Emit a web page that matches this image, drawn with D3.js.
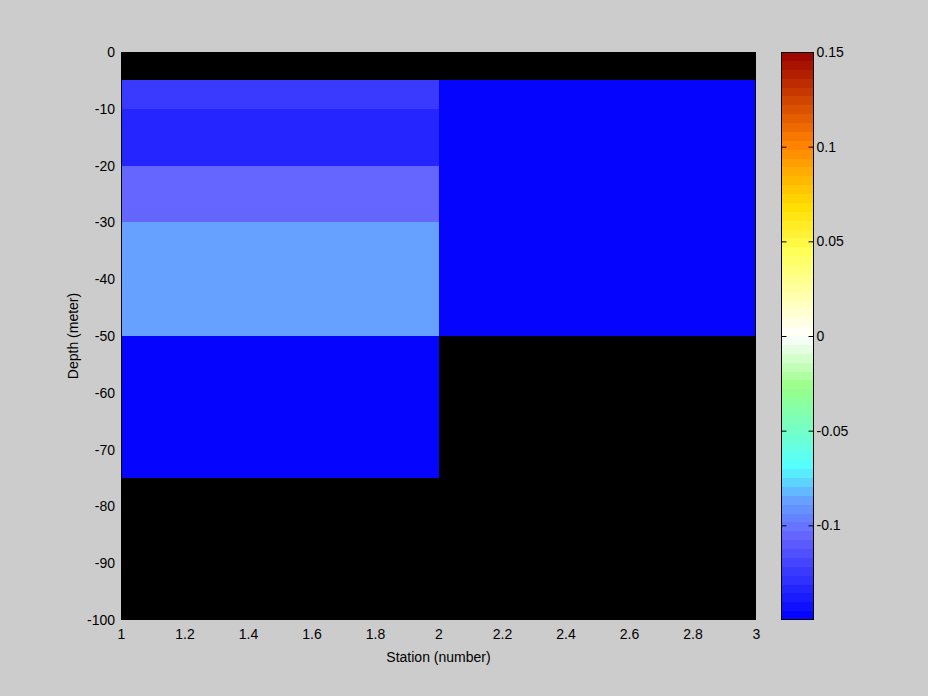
<!DOCTYPE html>
<html><head><meta charset="utf-8">
<script src="https://cdn.jsdelivr.net/npm/d3@7"></script>
<style>
html,body{margin:0;padding:0;background:#cccccc;}
svg{display:block;}
text{font-family:"Liberation Sans",Arial,sans-serif;font-size:14px;fill:#000;}
</style></head>
<body>
<script>
// Data
const stationEdges = [1, 2, 3];
const depthEdges = [0, -5, -10, -20, -30, -50, -75, -100];
const station1 = [null, -0.126, -0.132, -0.105, -0.088, -0.155, null];
const station2 = [null, -0.155, -0.155, -0.155, -0.155, null, null];
const xTicks = [1, 1.2, 1.4, 1.6, 1.8, 2, 2.2, 2.4, 2.6, 2.8, 3];
const yTicks = [0, -10, -20, -30, -40, -50, -60, -70, -80, -90, -100];
const cbTicks = [-0.1, -0.05, 0, 0.05, 0.1, 0.15];
const cbDomain = [-0.15, 0.15];
const nLevels = 64;
const cmapStops = [0, 0.15, 0.21, 0.27, 0.41, 0.5, 0.65, 0.73, 0.84, 1];
const cmapColors = ["#0000ff", "#6666ff", "#66a0ff", "#55ffff", "#99ff88", "#ffffff", "#ffff55", "#ffdd00", "#ff8000", "#990000"];

const W = 928, H = 696;
const plot = {x0: 121, x1: 756, y0: 52, y1: 620};
const cb = {x0: 781, x1: 813};
const fmt = d => String(d);

const svg = d3.select("body").append("svg").attr("width", W).attr("height", H);
svg.append("rect").attr("width", W).attr("height", H).attr("fill", "#cccccc");

const x = d3.scaleLinear().domain([1, 3]).range([plot.x0, plot.x1]);
const y = d3.scaleLinear().domain([0, -100]).range([plot.y0, plot.y1]);

const cont = d3.scaleLinear().domain(cmapStops).range(cmapColors).interpolate(d3.interpolateRgb);
const levelColors = d3.range(nLevels).map(i => cont((i + 0.5) / nLevels));
const tOf = d3.scaleLinear().domain(cbDomain).range([0, 1]).clamp(true);
function colorOf(v) {
  if (v == null) return "#000000";
  let i = Math.floor(tOf(v) * nLevels);
  i = Math.max(0, Math.min(nLevels - 1, i));
  return levelColors[i];
}

// axes background
svg.append("rect").attr("x", plot.x0).attr("y", plot.y0)
  .attr("width", plot.x1 - plot.x0).attr("height", plot.y1 - plot.y0).attr("fill", "#000");

const cols = [station1, station2];
const cells = [];
cols.forEach((col, ci) => col.forEach((v, di) => cells.push({
  xa: stationEdges[ci], xb: stationEdges[ci + 1], ya: depthEdges[di], yb: depthEdges[di + 1], v
})));
svg.append("g").selectAll("rect").data(cells).join("rect")
  .attr("x", d => x(d.xa)).attr("y", d => y(d.ya))
  .attr("width", d => x(d.xb) - x(d.xa)).attr("height", d => y(d.yb) - y(d.ya))
  .attr("fill", d => colorOf(d.v)).attr("shape-rendering", "crispEdges");

svg.append("rect").attr("x", plot.x0 + 0.5).attr("y", plot.y0 + 0.5)
  .attr("width", plot.x1 - plot.x0 - 1).attr("height", plot.y1 - plot.y0 - 1)
  .attr("fill", "none").attr("stroke", "#000").attr("stroke-width", 1);

// axes
const xAxis = d3.axisBottom(x).tickValues(xTicks).tickSize(0).tickPadding(9).tickFormat(fmt);
const gx = svg.append("g").attr("transform", `translate(0,${plot.y1})`).call(xAxis);
gx.select(".domain").remove();
gx.selectAll("text").style("font-size", "14px").style("font-family", "Liberation Sans, Arial, sans-serif");

const yAxis = d3.axisLeft(y).tickValues(yTicks).tickSize(0).tickPadding(6).tickFormat(fmt);
const gy = svg.append("g").attr("transform", `translate(${plot.x0},0)`).call(yAxis);
gy.select(".domain").remove();
gy.selectAll("text").style("font-size", "14px").style("font-family", "Liberation Sans, Arial, sans-serif");

svg.append("text").attr("x", (plot.x0 + plot.x1) / 2).attr("y", 662)
  .attr("text-anchor", "middle").text("Station (number)");
svg.append("text").attr("transform", `translate(78,${(plot.y0 + plot.y1) / 2}) rotate(-90)`)
  .attr("text-anchor", "middle").text("Depth (meter)");

// colorbar
const cy = d3.scaleLinear().domain(cbDomain).range([plot.y1, plot.y0]);
const lv = d3.range(nLevels).map(i => ({
  a: cbDomain[0] + (cbDomain[1] - cbDomain[0]) * i / nLevels,
  b: cbDomain[0] + (cbDomain[1] - cbDomain[0]) * (i + 1) / nLevels,
  c: levelColors[i]
}));
svg.append("g").selectAll("rect").data(lv).join("rect")
  .attr("x", cb.x0).attr("width", cb.x1 - cb.x0)
  .attr("y", d => Math.round(cy(d.b))).attr("height", d => Math.round(cy(d.a)) - Math.round(cy(d.b)))
  .attr("fill", d => d.c).attr("shape-rendering", "crispEdges");
svg.append("rect").attr("x", cb.x0 + 0.5).attr("y", plot.y0 + 0.5)
  .attr("width", cb.x1 - cb.x0).attr("height", plot.y1 - plot.y0 - 1)
  .attr("fill", "none").attr("stroke", "#000");

const cbAxisR = d3.axisRight(cy).tickValues(cbTicks).tickSize(-5).tickPadding(3).tickFormat(fmt);
const gcb = svg.append("g").attr("transform", `translate(${cb.x1 + 0.5},0)`).call(cbAxisR);
gcb.select(".domain").remove();
gcb.selectAll("line").attr("stroke", "#000");
gcb.selectAll("text").style("font-size", "14px").style("font-family", "Liberation Sans, Arial, sans-serif");
const cbAxisL = d3.axisLeft(cy).tickValues(cbTicks).tickSize(-5).tickFormat("");
const gcbl = svg.append("g").attr("transform", `translate(${cb.x0 + 0.5},0)`).call(cbAxisL);
gcbl.select(".domain").remove();
gcbl.selectAll("line").attr("stroke", "#000");
</script>
</body></html>
